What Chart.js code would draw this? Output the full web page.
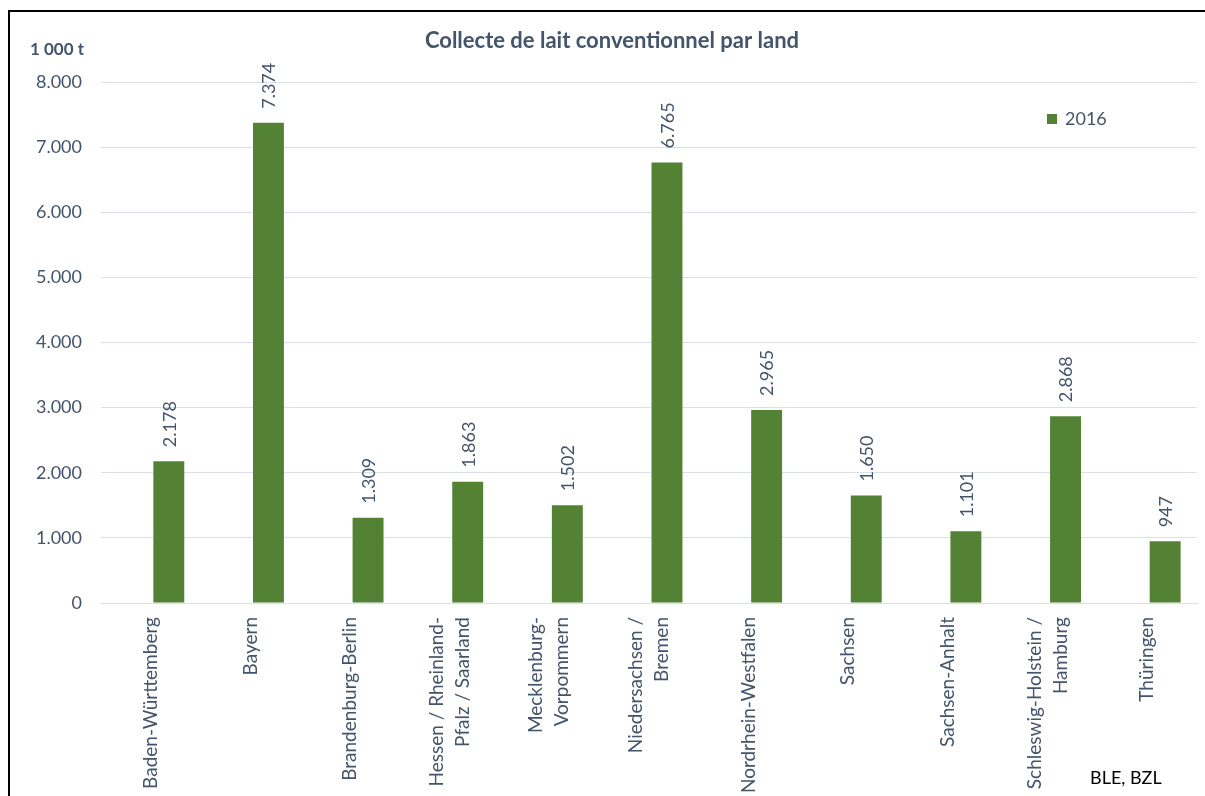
<!DOCTYPE html>
<html>
<head>
<meta charset="utf-8">
<script src="https://cdn.jsdelivr.net/npm/chart.js@4.4.1/dist/chart.umd.min.js"></script>
<style>
  html, body { margin: 0; padding: 0; background: #fff; overflow: hidden; }
  #wrap { position: relative; width: 1205px; height: 796px; }
  #frame { position: absolute; left: 8px; top: 10px; width: 1300px; height: 900px;
           border-left: 2px solid #000; border-top: 2px solid #000; box-sizing: border-box; }
  canvas { position: absolute; left: 0; top: 0; }
</style>
</head>
<body>
<div id="wrap">
  <div id="frame"></div>
  <canvas id="c" width="1205" height="796"></canvas>
</div>
<script>
const categories = [
  "Baden-Württemberg",
  "Bayern",
  "Brandenburg-Berlin",
  ["Hessen / Rheinland-", "Pfalz / Saarland"],
  ["Mecklenburg-", "Vorpommern"],
  ["Niedersachsen /", "Bremen"],
  "Nordrhein-Westfalen",
  "Sachsen",
  "Sachsen-Anhalt",
  ["Schleswig-Holstein /", "Hamburg"],
  "Thüringen"
];
const seriesLabel = "2016";
const values2016 = [2178, 7374, 1309, 1863, 1502, 6765, 2965, 1650, 1101, 2868, 947];
// empty first series slot (as in the original grouped chart), no values shown
const emptySeries = [null, null, null, null, null, null, null, null, null, null, null];
const yTicks = [0, 1000, 2000, 3000, 4000, 5000, 6000, 7000, 8000];
const titleText = "Collecte de lait conventionnel par land";
const unitText = "1 000 t";
const sourceText = "BLE, BZL";

const FONT = "Lato, 'Open Sans', sans-serif";
const TXT = "#44546A";
const BAR = "#548235";
const GRID = "#D9E0EA";

function fmt(v) {
  return String(Math.round(v)).replace(/\B(?=(\d{3})+(?!\d))/g, ".");
}

const decor = {
  id: "decor",
  afterDatasetsDraw(chart) {
    const ctx = chart.ctx;
    const meta = chart.getDatasetMeta(1);
    ctx.save();
    ctx.fillStyle = TXT;
    ctx.font = "18px " + FONT;
    ctx.textAlign = "left";
    ctx.textBaseline = "middle";
    meta.data.forEach((el, i) => {
      ctx.save();
      ctx.translate(el.x + 1, el.y - 14);
      ctx.rotate(-Math.PI / 2);
      ctx.fillText(fmt(chart.data.datasets[1].data[i]), 0, 0);
      ctx.restore();
    });
    ctx.restore();
  },
  afterDraw(chart) {
    const ctx = chart.ctx;
    const xs = chart.scales.x;
    ctx.save();
    // category labels, rotated, multi-line groups centred on the tick
    ctx.fillStyle = TXT;
    ctx.font = "19px " + FONT;
    ctx.textAlign = "right";
    ctx.textBaseline = "middle";
    const lh = 26;
    chart.data.labels.forEach((lab, i) => {
      const lines = Array.isArray(lab) ? lab : [lab];
      const cx = xs.getPixelForTick(i);
      lines.forEach((ln, j) => {
        ctx.save();
        ctx.translate(cx + (j - (lines.length - 1) / 2) * lh, xs.top + 14);
        ctx.rotate(-Math.PI / 2);
        ctx.fillText(ln, 0, 0);
        ctx.restore();
      });
    });
    ctx.fillStyle = TXT;
    ctx.font = "bold 22px " + FONT;
    ctx.textAlign = "center";
    ctx.textBaseline = "middle";
    ctx.fillText(titleText, 612, 41);
    ctx.font = "bold 17px " + FONT;
    ctx.textAlign = "left";
    ctx.fillText(unitText, 30, 50);
    ctx.fillStyle = BAR;
    ctx.fillRect(1047, 114, 10, 10);
    ctx.fillStyle = TXT;
    ctx.font = "18px " + FONT;
    ctx.fillText(chart.data.datasets[1].label, 1065, 119);
    ctx.fillStyle = "#000";
    ctx.font = "18px " + FONT;
    ctx.fillText(sourceText, 1090, 778);
    ctx.restore();
  }
};

new Chart(document.getElementById("c"), {
  type: "bar",
  data: {
    labels: categories,
    datasets: [{
      label: "",
      data: emptySeries,
      backgroundColor: "rgba(0,0,0,0)",
      borderWidth: 0,
      barPercentage: 0.86,
      categoryPercentage: 0.722
    }, {
      label: seriesLabel,
      data: values2016,
      backgroundColor: BAR,
      borderWidth: 0,
      barPercentage: 0.86,
      categoryPercentage: 0.722
    }]
  },
  options: {
    responsive: false,
    animation: false,
    devicePixelRatio: 1,
    layout: { padding: { top: 82, right: 8, left: 0, bottom: 0 } },
    plugins: {
      legend: { display: false },
      title: { display: false },
      tooltip: { enabled: false }
    },
    scales: {
      x: {
        afterFit(s) { s.height = 193; },
        grid: { display: false, drawTicks: false },
        border: { display: true, color: GRID, width: 1 },
        ticks: { display: false }
      },
      y: {
        min: 0,
        max: 8000,
        afterFit(s) { s.width = 101; },
        afterBuildTicks(s) { s.ticks = yTicks.map(v => ({ value: v })); },
        grid: { color: GRID, lineWidth: 1, drawTicks: false },
        border: { display: false },
        ticks: {
          color: TXT,
          font: { family: FONT, size: 18 },
          padding: 19,
          callback: v => fmt(v)
        }
      }
    }
  },
  plugins: [decor]
});
</script>
</body>
</html>
